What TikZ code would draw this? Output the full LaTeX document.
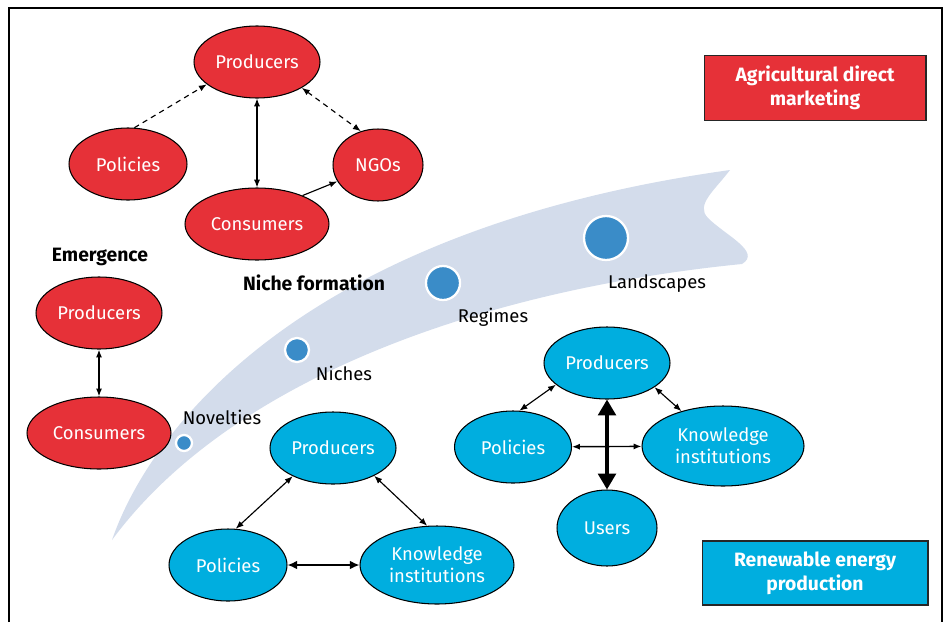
\documentclass[tikz,border=0pt]{standalone}
\usepackage{fontspec}
\setmainfont{Fira Sans}
\usepackage{tikz}
\usetikzlibrary{shapes.geometric, arrows.meta}

\definecolor{ecred}{HTML}{E63138}
\definecolor{ecblue}{HTML}{00AEDF}
\definecolor{swoosh}{HTML}{D3DCEB}
\definecolor{dotblue}{HTML}{3A8CC8}

\tikzset{
    blob/.style={ellipse, draw=black, line width=0.6pt, inner sep=0pt, text=white, align=center, font=\fontsize{10.5}{12.5}\selectfont},
    redblob/.style={blob, fill=ecred},
    blueblob/.style={blob, fill=ecblue},
    legendbox/.style={draw=black!85, line width=0.6pt, inner sep=0pt, text=white, align=center, font=\fontsize{11}{13.5}\selectfont\bfseries},
    stagedot/.style={circle, fill=dotblue, draw=white, line width=1.3pt, inner sep=0pt},
    stagelabel/.style={font=\fontsize{10.5}{12}\selectfont},
    headlabel/.style={font=\fontsize{11}{13}\selectfont\bfseries},
    link/.style={line width=0.65pt, -{Latex[length=4.5pt,width=3.5pt]}},
    dlink/.style={link, {Latex[length=4.5pt,width=3.5pt]}-{Latex[length=4.5pt,width=3.5pt]}},
    blink/.style={line width=0.9pt, {Latex[length=5.5pt,width=5pt]}-{Latex[length=5.5pt,width=5pt]}},
    dashlink/.style={dash pattern=on 3pt off 2.5pt}
}

\begin{document}
\begin{tikzpicture}[x=0.02cm, y=-0.02cm]
    \useasboundingbox (0,0) rectangle (949,622);
    % frame
    \draw[line width=0.6pt] (9,622) -- (9,8) -- (942,8) -- (942,622);

    % swoosh
    \fill[swoosh] (112,540) .. controls (150,430) and (300,230) .. (730,170)
        .. controls (715,190) and (695,205) .. (708,218)
        .. controls (725,235) and (762,252) .. (742,264)
        .. controls (480,290) and (230,380) .. (112,540) -- cycle;

    % stages
    \node[stagedot, minimum size=0.32cm] (novdot) at (184,443) {};
    \node[stagedot, minimum size=0.48cm] (nichedot) at (297,350) {};
    \node[stagedot, minimum size=0.68cm] (regdot) at (443,283) {};
    \node[stagedot, minimum size=0.88cm] (landdot) at (606,238) {};
    \node[stagelabel] (novlab) at (222,417) {Novelties};
    \node[stagelabel] (nichelab) at (344,373) {Niches};
    \node[stagelabel] (reglab) at (493,317) {Regimes};
    \node[stagelabel] (landlab) at (657,284) {Landscapes};
    \node[headlabel] (formlab) at (314,283) {Niche formation};
    \node[headlabel] (emlab) at (100,257) {Emergence};

    % agricultural direct marketing
    \node[redblob, minimum width=2.52cm, minimum height=1.44cm] (tprod) at (257,62) {Producers};
    \node[redblob, minimum width=2.36cm, minimum height=1.44cm] (tpol) at (128,164) {Policies};
    \node[redblob, minimum width=1.80cm, minimum height=1.44cm] (tngo) at (378,165) {NGOs};
    \node[redblob, minimum width=2.88cm, minimum height=1.44cm] (tcons) at (257,224) {Consumers};
    \draw[link, dashlink] (tpol.80) -- (tprod.204);
    \draw[dlink, dashlink] (tprod.-30) -- (tngo.117);
    \draw[dlink] (tprod.south) -- (tcons.north);
    \draw[link] (tcons.32) -- (tngo.202);

    % emergence
    \node[redblob, minimum width=2.52cm, minimum height=1.44cm] (lprod) at (99,313) {Producers};
    \node[redblob, minimum width=2.88cm, minimum height=1.44cm] (lcons) at (99,433) {Consumers};
    \draw[dlink, line width=0.9pt] (lprod.south) -- (lcons.north);

    % renewable energy, niche
    \node[blueblob, minimum width=2.52cm, minimum height=1.44cm] (bprod) at (333,448) {Producers};
    \node[blueblob, minimum width=2.36cm, minimum height=1.44cm] (bpol) at (228,565) {Policies};
    \node[blueblob, minimum width=3.08cm, minimum height=1.56cm] (bki) at (437,565) {Knowledge\\institutions};
    \draw[dlink] (bprod.215) -- (bpol.78);
    \draw[dlink] (bprod.-34) -- (bki.104);
    \draw[blink] (bpol) -- (bki);

    % renewable energy, regime
    \node[blueblob, minimum width=2.52cm, minimum height=1.44cm] (rprod) at (607,363) {Producers};
    \node[blueblob, minimum width=2.34cm, minimum height=1.44cm] (rpol) at (513,447) {Policies};
    \node[blueblob, minimum width=3.24cm, minimum height=1.60cm] (rki) at (723,446) {Knowledge\\institutions};
    \node[blueblob, minimum width=2.00cm, minimum height=1.52cm] (rusers) at (607,528) {Users};
    \draw[dlink] (rprod.203) -- (rpol.80);
    \draw[dlink] (rprod.-27) -- (rki.140);
    \draw[dlink, line width=0.8pt] (rpol) -- (rki);
    \draw[line width=2pt, {Triangle[length=9pt,width=10pt]}-{Triangle[length=9pt,width=10pt]}] (rprod.south) -- (rusers.north);

    % legend
    \node[legendbox, fill=ecred, minimum width=4.44cm, minimum height=1.30cm] (agrbox) at (815,88) {Agricultural direct\\marketing};
    \node[legendbox, fill=ecblue, minimum width=4.52cm, minimum height=1.28cm] (renbox) at (815,573) {Renewable energy\\production};
\end{tikzpicture}
\end{document}
